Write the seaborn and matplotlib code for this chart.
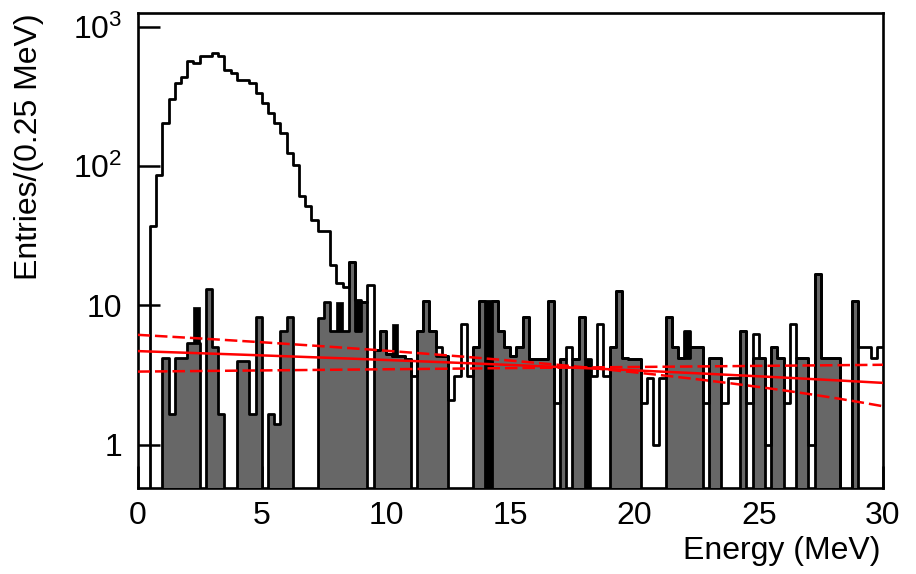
import numpy as np
import pandas as pd
import matplotlib
matplotlib.use("Agg")
import matplotlib.pyplot as plt
import seaborn as sns
from matplotlib.ticker import FixedLocator, FixedFormatter, LogLocator, NullFormatter, MultipleLocator

sns.set_theme(style="white")
plt.rcParams["font.family"] = ["Liberation Sans", "DejaVu Sans"]
plt.rcParams["mathtext.fontset"] = "custom"
plt.rcParams["mathtext.rm"] = "Liberation Sans"
plt.rcParams["mathtext.it"] = "Liberation Sans"

# 0.25 MeV bins from 0 to 30 MeV
bin_width = 0.25
energy_range = (0.0, 30.0)
centers = np.arange(120) * bin_width + bin_width / 2

# all selected events (open histogram)
total_entries = [
    0, 0, 37, 86, 202, 301, 395, 437, 569, 550,
    615, 615, 643, 615, 488, 467, 413, 413, 395, 335,
    284, 239, 202, 173, 123, 102, 61, 52, 41, 34,
    34, 19.4, 14.4, 13.6, 20.3, 10.9, 10.6, 14.0, 4.8, 6.5,
    4.5, 4.3, 4.3, 4.1, 3.1, 6.6, 10.8, 6.6, 5.0, 4.3,
    2.1, 3.1, 7.3, 3.1, 5.0, 10.8, 10.8, 10.8, 6.6, 5.0,
    4.3, 5.0, 8.2, 4.1, 4.1, 4.1, 10.8, 2.0, 4.1, 5.0,
    4.1, 8.2, 4.1, 3.1, 7.3, 3.1, 5.0, 12.7, 4.2, 4.1,
    4.1, 2.0, 3.0, 1.0, 3.0, 8.2, 5.0, 4.2, 6.6, 5.0,
    5.0, 2.0, 4.2, 4.2, 2.0, 3.0, 3.0, 6.6, 2.0, 6.2,
    4.2, 1.0, 5.0, 4.2, 2.0, 7.3, 4.2, 4.2, 1.0, 16.7,
    4.2, 4.2, 4.2, 0, 0, 10.8, 5.0, 5.0, 4.2, 5.0,
]

# scaled background sample (grey filled histogram)
background_entries = [
    0, 0, 0, 0, 4.2, 1.66, 4.2, 4.2, 5.4, 5.4,
    0, 13.2, 5.0, 1.66, 0, 0, 4.0, 4.0, 1.66, 8.2,
    0, 1.66, 1.41, 6.6, 8.2, 0, 0, 0, 0, 8.1,
    10.6, 6.5, 6.5, 6.5, 20.3, 6.5, 10.6, 0, 4.8, 6.5,
    4.5, 4.3, 4.3, 4.1, 0, 6.6, 10.8, 6.6, 4.3, 4.3,
    0, 0, 0, 0, 5.0, 10.8, 0, 10.8, 6.6, 5.0,
    4.3, 5.0, 8.2, 4.1, 4.1, 4.1, 10.8, 0, 4.1, 0,
    4.1, 8.2, 0, 0, 0, 0, 5.0, 12.7, 4.2, 4.1,
    4.1, 0, 0, 0, 0, 8.2, 5.0, 4.2, 4.2, 5.0,
    5.0, 0, 4.2, 4.2, 0, 0, 0, 6.6, 0, 4.2,
    4.2, 0, 5.0, 4.2, 0, 0, 4.2, 4.2, 0, 16.7,
    4.2, 4.2, 4.2, 0, 0, 10.8, 0, 0, 0, 0,
]

# second sample drawn in solid black behind the grey one
second_entries = [0.0] * 120
for k, v in {9: 9.8, 32: 10.6, 35: 10.9, 41: 7.3, 56: 10.8, 72: 4.1, 88: 6.6}.items():
    second_entries[k] = v

# linear fits: central value and the two slope-error curves
fit_central = (4.70, -0.064)
fit_upper = (6.15, -0.142)
fit_lower = (3.35, 0.0133)

hists = pd.DataFrame({
    "energy": centers,
    "total": total_entries,
    "background": background_entries,
    "second": second_entries,
})

fig = plt.figure(figsize=(9.16, 5.74), dpi=100)
ax = fig.add_axes([137.5 / 916, 1 - 488 / 574, 745.5 / 916, 475 / 574])

lw = 2.0
common = dict(data=hists, x="energy", binwidth=bin_width, binrange=energy_range,
              element="step", ax=ax)
sns.histplot(weights="second", fill=True, facecolor="black", edgecolor="black",
             linewidth=0.5, alpha=1, zorder=2, **common)
sns.histplot(weights="background", fill=True, facecolor="#676767", edgecolor="black",
             linewidth=lw, alpha=1, zorder=3, **common)
sns.histplot(weights="total", fill=False, color="black", linewidth=lw, zorder=4, **common)

xs = np.linspace(0, 30, 300)
sns.lineplot(x=xs, y=fit_central[0] + fit_central[1] * xs, color="red", linewidth=1.8,
             ax=ax, zorder=5)
for a, b in (fit_upper, fit_lower):
    sns.lineplot(x=xs, y=a + b * xs, color="red", linewidth=1.8,
                 linestyle=(0, (5, 2)), ax=ax, zorder=5)

ax.set_yscale("log")
ax.set_xlim(0, 30)
ax.set_ylim(0.49, 1250)
ax.set_axisbelow(True)

ax.yaxis.set_major_locator(FixedLocator([1, 10, 100, 1000]))
ax.yaxis.set_major_formatter(FixedFormatter(["1", "10", r"$10^{2}$", r"$10^{3}$"]))
ax.yaxis.set_minor_locator(LogLocator(base=10, subs=np.arange(2, 10)))
ax.yaxis.set_minor_formatter(NullFormatter())
ax.xaxis.set_major_locator(MultipleLocator(5))
ax.xaxis.set_minor_locator(MultipleLocator(1))

ax.tick_params(axis="both", which="both", direction="in", width=1.8, color="black",
               labelsize=23, labelcolor="black")
ax.tick_params(axis="y", which="major", length=16, pad=11)
ax.tick_params(axis="y", which="minor", length=8)
ax.tick_params(axis="x", which="major", length=16, pad=9)
ax.tick_params(axis="x", which="minor", length=9)
ax.tick_params(left=True, bottom=True, right=False, top=False)

for s in ax.spines.values():
    s.set_linewidth(1.9)
    s.set_color("black")

ax.set_xlabel("Energy (MeV)", fontsize=23, loc="right", color="black")
ax.xaxis.set_label_coords(0.996, -0.10)
ax.set_ylabel("Entries/(0.25 MeV)", fontsize=23, loc="top", color="black")
ax.yaxis.set_label_coords(-0.125, 1.0)

fig.savefig("out.png", dpi=100, facecolor="white")
